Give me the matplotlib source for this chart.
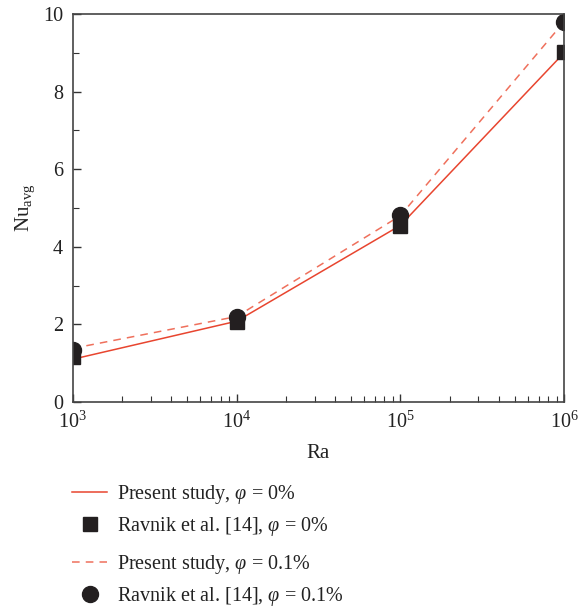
import numpy as np
import matplotlib
matplotlib.use("Agg")
import matplotlib.pyplot as plt
from matplotlib.ticker import LogLocator, MultipleLocator, NullFormatter
from matplotlib.lines import Line2D

plt.rcParams['font.family'] = ['Liberation Serif', 'DejaVu Serif']
plt.rcParams['mathtext.fontset'] = 'custom'
plt.rcParams['mathtext.rm'] = 'Liberation Serif'
plt.rcParams['mathtext.it'] = 'Liberation Serif:italic'

# --------------------------
# Data
# --------------------------
ra = [1e3, 1e4, 1e5, 1e6]
nu_present_0 = [1.1, 2.08, 4.55, 9.0]
nu_present_01 = [1.38, 2.2, 4.8, 9.8]
nu_ravnik_0 = [1.15, 2.06, 4.53, 9.02]
nu_ravnik_01 = [1.34, 2.2, 4.82, 9.8]

labels = ["Present study, $\\varphi$ = 0%",
          "Ravnik et al. [14], $\\varphi$ = 0%",
          "Present study, $\\varphi$ = 0.1%",
          "Ravnik et al. [14], $\\varphi$ = 0.1%"]

red = "#e8452f"
red_light = "#ef705c"
dark = "#231f20"

# --------------------------
# Plot
# --------------------------
fig = plt.figure(figsize=(5.78, 6.08), dpi=100)
ax = fig.add_axes([0.126, 0.339, 0.85, 0.638])

ax.plot(ra, nu_present_0, color=red, lw=1.1)
ax.plot(ra, nu_present_01, color=red_light, lw=1.1, ls=(0, (5, 4)))
ax.plot(ra, nu_ravnik_0, ls="none", marker="s", ms=10, color=dark)
ax.plot(ra, nu_ravnik_01, ls="none", marker="o", ms=11.5, color=dark)

ax.set_xscale("log")
ax.set_xlim(1e3, 1e6)
ax.set_ylim(0, 10)
ax.yaxis.set_major_locator(MultipleLocator(2))
ax.yaxis.set_minor_locator(MultipleLocator(1))
ax.xaxis.set_minor_locator(LogLocator(base=10, subs=np.arange(2, 10)))
ax.xaxis.set_minor_formatter(NullFormatter())

ax.tick_params(which="both", direction="in", top=False, right=False,
               labelsize=14.5, colors="#333333", labelcolor="#222222")
ax.tick_params(axis="y", which="major", pad=7)
ax.tick_params(axis="x", which="major", pad=7)
ax.tick_params(which="major", length=6, width=1.0)
ax.tick_params(which="minor", length=4, width=0.8)
for s in ax.spines.values():
    s.set_color("#444444")
    s.set_linewidth(1.2)

ax.set_xlabel("Ra", fontsize=15, labelpad=8, color="#222222")
ax.set_ylabel("Nu$_{\\mathrm{avg}}$", fontsize=15, labelpad=4, color="#222222")

# Legend (two groups with a gap)
h1 = [Line2D([], [], color=red, lw=1.1),
      Line2D([], [], ls="none", marker="s", ms=10, color=dark)]
h2 = [Line2D([], [], color=red_light, lw=1.1, ls=(0, (5, 4))),
      Line2D([], [], ls="none", marker="o", ms=11.5, color=dark)]
kw = dict(frameon=False, fontsize=14.5, handlelength=1.75, handletextpad=0.45,
          labelspacing=0.45, borderpad=0, borderaxespad=0, labelcolor="#222222")
leg1 = fig.legend(h1, labels[:2], loc="upper left", bbox_to_anchor=(0.125, 0.205), **kw)
leg2 = fig.legend(h2, labels[2:], loc="upper left", bbox_to_anchor=(0.125, 0.090), **kw)

plt.savefig("out.png", dpi=100)
